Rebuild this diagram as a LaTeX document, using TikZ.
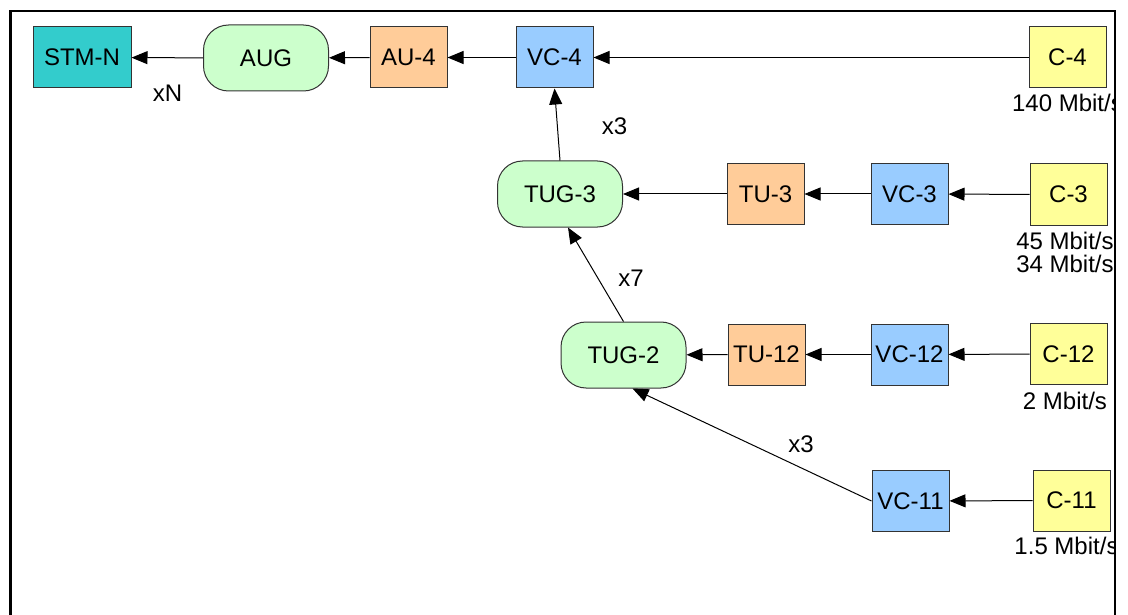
\documentclass[tikz,border=0pt]{standalone}
\usepackage{fontspec}
\setmainfont{Liberation Sans}
\usetikzlibrary{arrows.meta}

\definecolor{stmcol}{HTML}{33CCCC}
\definecolor{grpcol}{HTML}{CCFFCC}
\definecolor{unitcol}{HTML}{FFCC99}
\definecolor{vccol}{HTML}{99CCFF}
\definecolor{ccol}{HTML}{FFFF99}
\definecolor{edgecol}{HTML}{333333}

\tikzset{
  txt/.style={font=\fontsize{24}{23}\selectfont},
  box/.style={txt, draw=edgecol, line width=1pt, inner sep=0pt,
              minimum width=77pt, minimum height=61pt},
  stmbox/.style={box, fill=stmcol, minimum width=98pt},
  grpbox/.style={box, fill=grpcol, rounded corners=25pt,
                 minimum width=125pt, minimum height=66pt},
  unitbox/.style={box, fill=unitcol},
  vcbox/.style={box, fill=vccol},
  cbox/.style={box, fill=ccol},
  rate/.style={txt, anchor=base, align=center},
  mult/.style={txt, anchor=base},
  link/.style={line width=1pt, -{Triangle[length=16pt,width=13pt]}},
}

\begin{document}
\begin{tikzpicture}[x=1pt, y=-1pt]
\useasboundingbox (0,0) rectangle (1128,615);

% top row: STM-N <- AUG <- AU-4 <- VC-4 <- C-4
\node[stmbox]  (stm) at (82,57.5)    {STM-N};
\node[grpbox]  (aug) at (266,58)     {AUG};
\node[unitbox] (au4) at (408.5,57.5) {AU-4};
\node[vcbox]   (vc4) at (554.5,57.5) {VC-4};
\node[cbox]    (c4)  at (1067.5,57.5){C-4};

% 34/45 Mbit/s branch
\node[grpbox]  (tug3) at (560,194)   {TUG-3};
\node[unitbox] (tu3)  at (765.5,194) {TU-3};
\node[vcbox]   (vc3)  at (909.5,194) {VC-3};
\node[cbox]    (c3)   at (1068.5,194.5) {C-3};

% 2 Mbit/s branch
\node[grpbox]  (tug2) at (623.5,355)  {TUG-2};
\node[unitbox] (tu12) at (766.5,354.5){TU-12};
\node[vcbox]   (vc12) at (909.5,354.5){VC-12};
\node[cbox]    (c12)  at (1068.5,354) {C-12};

% 1.5 Mbit/s branch
\node[vcbox]   (vc11) at (910.5,501)  {VC-11};
\node[cbox]    (c11)  at (1071.5,500.5){C-11};

% connectors
\draw[link] (aug) -- (stm);
\draw[link] (au4) -- (aug);
\draw[link] (vc4) -- (au4);
\draw[link] (c4)  -- (vc4);

\draw[link] (c3)  -- (vc3);
\draw[link] (vc3) -- (tu3);
\draw[link] (tu3) -- (tug3);
\draw[link] (tug3.north) -- (vc4.south);

\draw[link] (c12)  -- (vc12);
\draw[link] (vc12) -- (tu12);
\draw[link] (tu12) -- (tug2);
\draw[link] (tug2.north) -- ([xshift=8pt]tug3.south);

\draw[link] (c11) -- (vc11);
\draw[link] (vc11.west) -- ([xshift=9pt]tug2.south);

% multiplexing factors
\node[mult] (mN)  at (167.5,102) {xN};
\node[mult] (m3a) at (614.5,135) {x3};
\node[mult] (m7)  at (631,286)   {x7};
\node[mult] (m3b) at (801,452)   {x3};

% bit rates, cut off by the frame
\begin{scope}
  \clip (0,0) rectangle (1114,615);
  \node[rate] (r4)  at (1067.5,112) {140 Mbit/s};
  \node[rate] (r3a) at (1065,249)   {45 Mbit/s};
  \node[rate] (r3b) at (1065,272)   {34 Mbit/s};
  \node[rate] (r12) at (1065,409)   {2 Mbit/s};
  \node[rate] (r11) at (1066.5,554) {1.5 Mbit/s};
\end{scope}

% frame
\draw[line width=2.5pt] (10.5,630) -- (10.5,11) -- (1115,11) -- (1115,630);
\end{tikzpicture}
\end{document}
